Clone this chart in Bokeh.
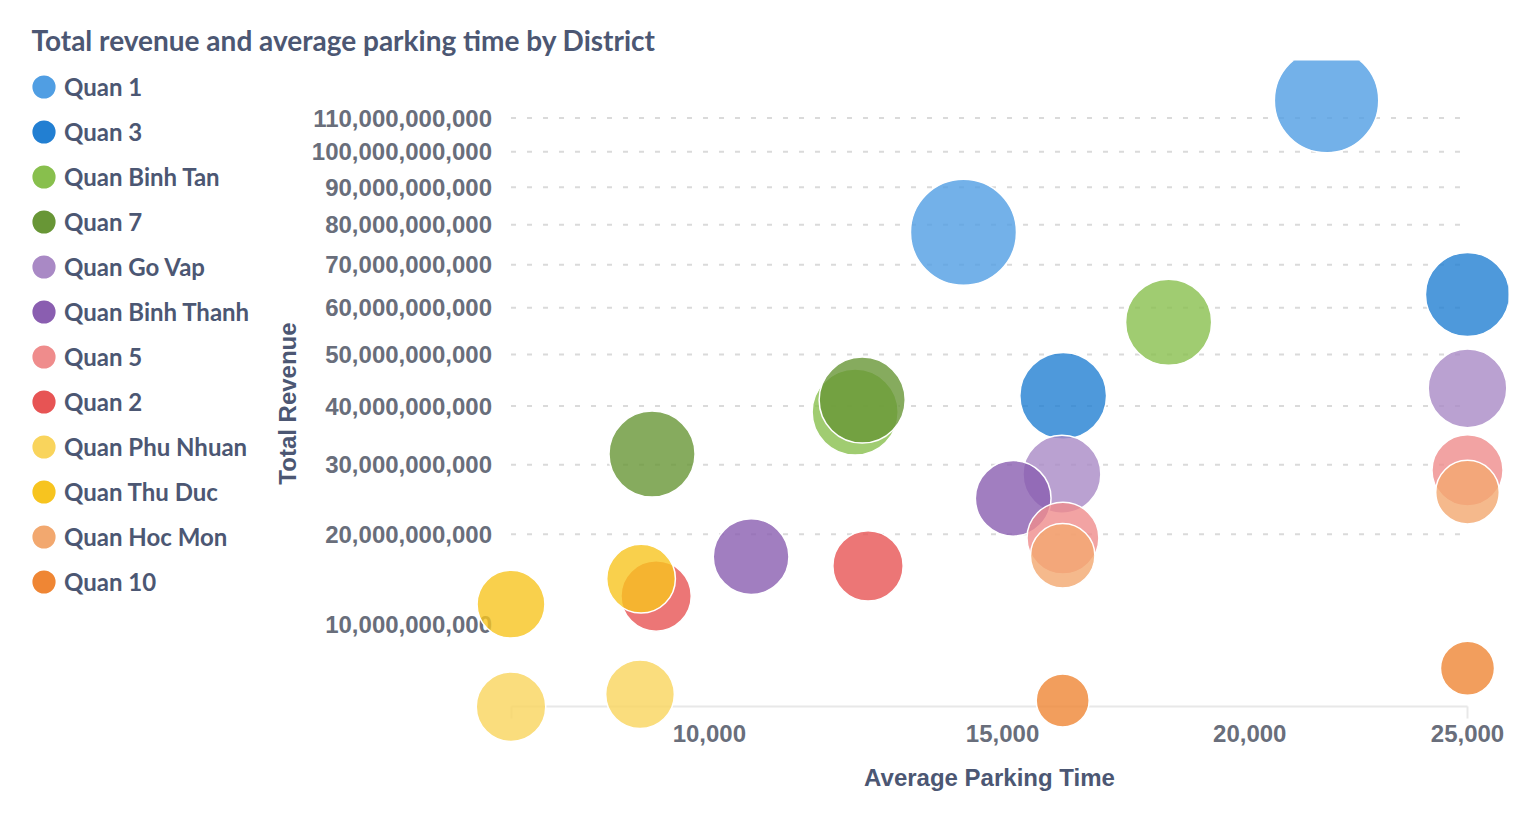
import numpy as np
from bokeh.plotting import figure
from bokeh.models import (Range1d, LinearAxis, FixedTicker, CustomJSTickFormatter,
                          Legend, LegendItem, ColumnDataSource)
from bokeh.embed import file_html
from bokeh.resources import INLINE

# ---------------- data ----------------
districts = ["Quan 1", "Quan 3", "Quan Binh Tan", "Quan 7", "Quan Go Vap",
             "Quan Binh Thanh", "Quan 5", "Quan 2", "Quan Phu Nhuan",
             "Quan Thu Duc", "Quan Hoc Mon", "Quan 10"]
colors = ["#509EE3", "#227FD2", "#88BF4D", "#689636", "#A989C5", "#8A5EB0",
          "#EF8C8C", "#E75454", "#F9D45C", "#F7C41F", "#F2A86F", "#EF8634"]

point_district = ["Quan 1", "Quan 1", "Quan 3", "Quan 3", "Quan Binh Tan", "Quan Binh Tan",
                  "Quan 7", "Quan 7", "Quan Go Vap", "Quan Go Vap", "Quan Binh Thanh", "Quan Binh Thanh",
                  "Quan 5", "Quan 5", "Quan 2", "Quan 2", "Quan Phu Nhuan", "Quan Phu Nhuan",
                  "Quan Thu Duc", "Quan Thu Duc", "Quan Hoc Mon", "Quan Hoc Mon", "Quan 10", "Quan 10"]
avg_parking_time = [21700, 14275, 25000, 16160, 18280, 12360,
                    12480, 9140, 25000, 16135, 15200, 10650,
                    25000, 16155, 12580, 9200, 7190, 8965,
                    7190, 8980, 25000, 16150, 25000, 16150]
total_revenue = [115.4e9, 78.1e9, 63.0e9, 41.9e9, 56.8e9, 38.9e9,
                 41.1e9, 31.7e9, 43.3e9, 28.5e9, 24.9e9, 17.2e9,
                 29.1e9, 19.5e9, 16.1e9, 12.8e9, 3.91e9, 4.65e9,
                 11.97e9, 14.66e9, 25.8e9, 17.3e9, 6.42e9, 4.27e9]
bubble_size = [97, 100, 63, 67, 66, 66,
               66, 66, 55, 54, 51, 51,
               45, 46, 44, 44, 43, 42,
               41, 42, 36, 37, 26, 25]

x_tick_values = [10000, 15000, 20000, 25000]
y_tick_values = [10e9, 20e9, 30e9, 40e9, 50e9, 60e9, 70e9, 80e9, 90e9, 100e9, 110e9]
grid_values = y_tick_values[1:]

# ---------------- layout constants (figure pixels) ----------------
W, H = 1510, 798
FR_L, FR_R, FR_T, FR_B = 0, 1508, 60, 798           # plot frame
DOM_L, DOM_R, DOM_T, DOM_B = 510.5, 1467, 100, 706.2  # data domain box
R_MAX = 53

# sqrt ("power") scale: transform values, then linear mapping
sx = np.sqrt(np.array(avg_parking_time, dtype=float))
sy = np.sqrt(np.array(total_revenue, dtype=float))
sx_min, sx_max = float(sx.min()), float(sx.max())
sy_min, sy_max = float(sy.min()), float(sy.max())
kx = (DOM_R - DOM_L) / (sx_max - sx_min)
ky = (DOM_B - DOM_T) / (sy_max - sy_min)
x_range = Range1d(sx_min - (DOM_L - FR_L) / kx, sx_max + (FR_R - DOM_R) / kx)
y_range = Range1d(sy_min - (FR_B - DOM_B) / ky, sy_max + (DOM_T - FR_T) / ky)

sizes = np.array(bubble_size, dtype=float)
diam = 2 * R_MAX * np.sqrt(sizes / sizes.max())

TITLE_C = "#4C5773"
TICK_C = "#696E7B"

p = figure(width=W, height=H, x_range=x_range, y_range=y_range,
           x_axis_location=None, y_axis_location=None,
           toolbar_location=None, output_backend="svg",
           min_border_left=FR_L, min_border_right=W - FR_R,
           min_border_top=FR_T, min_border_bottom=H - FR_B)
p.outline_line_color = None
p.xgrid.visible = False
p.ygrid.visible = False

p.title.text = "Total revenue and average parking time by District"
p.title.text_font = "Lato"
p.title.text_font_style = "bold"
p.title.text_font_size = "28px"
p.title.text_color = TITLE_C
p.title.offset = 31
p.title.standoff = 8

# grid lines
gy = np.sqrt(np.array(grid_values, dtype=float))
p.segment(x0=[sx_min] * len(gy), x1=[sx_max] * len(gy), y0=gy, y1=gy,
          line_color="#DADADA", line_width=2, line_dash="5 11", level="underlay")

fmt = CustomJSTickFormatter(code="""
const v = Math.round(tick * tick);
return v.toString().replace(/\\B(?=(\\d{3})+(?!\\d))/g, ',');
""")

yaxis = LinearAxis(fixed_location=sx_min, bounds=(sy_min, sy_max),
                   ticker=FixedTicker(ticks=[float(v) for v in np.sqrt(y_tick_values)]),
                   formatter=fmt, axis_label="Total Revenue")
yaxis.axis_line_color = None
yaxis.major_tick_line_color = None
yaxis.minor_tick_line_color = None
yaxis.major_tick_out = 0
yaxis.minor_tick_out = 0
yaxis.major_label_standoff = 19
yaxis.axis_label_standoff = 8
yaxis.level = "underlay"

xaxis = LinearAxis(fixed_location=sy_min, bounds=(sx_min, sx_max),
                   ticker=FixedTicker(ticks=[float(v) for v in np.sqrt(x_tick_values)],
                                      minor_ticks=[sx_min, sx_max]),
                   formatter=fmt, axis_label="Average Parking Time")
xaxis.axis_line_color = "#E8E8E8"
xaxis.axis_line_width = 2
xaxis.major_tick_line_color = None
xaxis.major_tick_out = 0
xaxis.major_tick_in = 0
xaxis.minor_tick_line_color = "#E8E8E8"
xaxis.minor_tick_line_width = 2
xaxis.minor_tick_out = 12
xaxis.minor_tick_in = 0
xaxis.major_label_standoff = 6
xaxis.axis_label_standoff = 19
xaxis.level = "underlay"

for ax in (xaxis, yaxis):
    ax.major_label_text_font = "Liberation Sans"
    ax.major_label_text_font_style = "bold"
    ax.major_label_text_font_size = "24px"
    ax.major_label_text_color = TICK_C
    ax.axis_label_text_font = "Liberation Sans"
    ax.axis_label_text_font_style = "bold"
    ax.axis_label_text_font_size = "24px"
    ax.axis_label_text_color = TITLE_C

p.add_layout(yaxis, "left")
p.add_layout(xaxis, "below")

# bubbles, one renderer per district (later series drawn on top)
items = []
for name, col in zip(districts, colors):
    idx = [j for j, d in enumerate(point_district) if d == name]
    src = ColumnDataSource(dict(x=sx[idx], y=sy[idx], size=diam[idx]))
    p.scatter("x", "y", size="size", source=src, fill_color=col, fill_alpha=0.8,
              line_color="white", line_width=1.5)
    # solid legend key (not drawn in the plot area)
    key = p.ellipse(x=[np.nan], y=[np.nan], width=10, height=10,
                    width_units="screen", height_units="screen",
                    fill_color=col, line_color=None)
    items.append(LegendItem(label=name, renderers=[key]))

legend = Legend(items=items, location=(29, 202), orientation="vertical",
                glyph_width=29, glyph_height=29, spacing=16, label_standoff=6,
                label_height=29,
                padding=0, margin=0, border_line_color=None, background_fill_alpha=0,
                label_text_font="Lato", label_text_font_style="bold",
                label_text_font_size="24px", label_text_color=TITLE_C)
p.add_layout(legend, "center")

open("out.html", "w").write(file_html(p, INLINE))
